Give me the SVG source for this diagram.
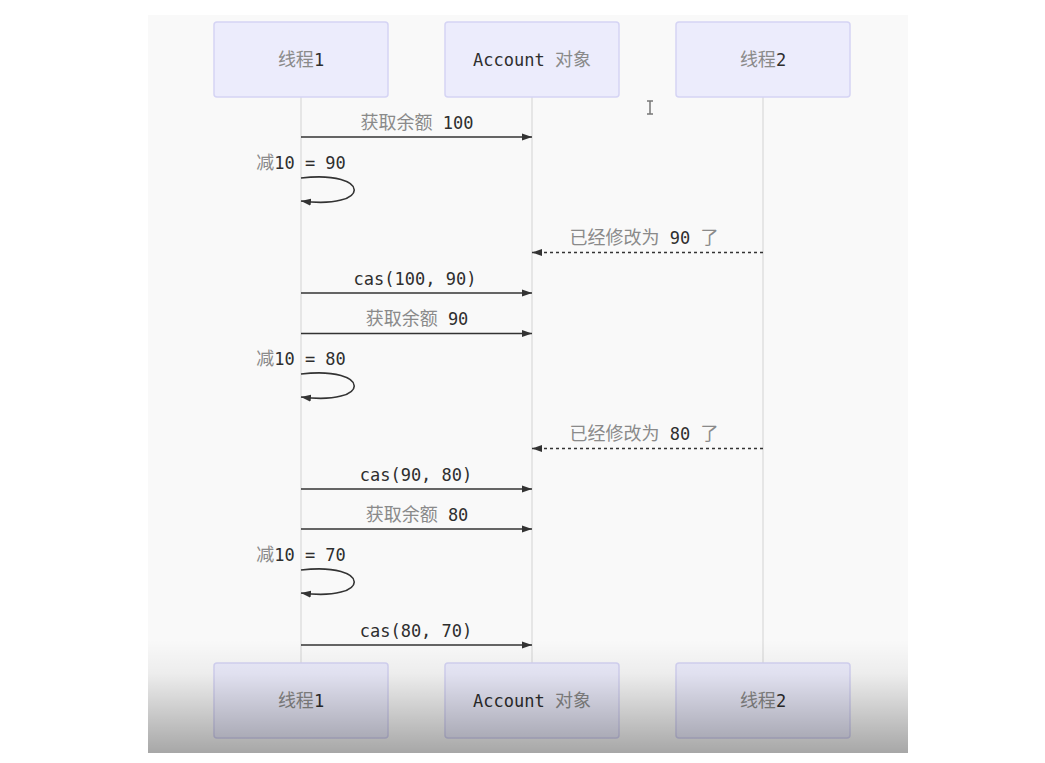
<svg xmlns="http://www.w3.org/2000/svg" width="1045" height="763" viewBox="0 0 1045 763">
<defs>
<style>
.box{fill:#ececfc;stroke:#d5d4f4;stroke-width:1.5}
.life{stroke:#d9d9d9;stroke-width:1.2;fill:none}
.t{font-family:"DejaVu Sans Mono","Noto Sans CJK SC",monospace;font-size:17px;text-anchor:middle}
.lat{fill:#2e2e2e}
.cjk{fill:#8a8a8a;font-family:"Noto Sans CJK SC","DejaVu Sans Mono",sans-serif;font-size:18px}
.msg{stroke:#333;stroke-width:1.6;fill:none}
.dash{stroke:#333;stroke-width:1.6;fill:none;stroke-dasharray:3 3}
</style>
<marker id="ah" markerWidth="10" markerHeight="8" refX="10" refY="4" orient="auto" markerUnits="userSpaceOnUse">
<path d="M0,0.5 L10,4 L0,7.5 Z" fill="#333"/>
</marker>
<linearGradient id="shade" x1="0" y1="0" x2="0" y2="1">
<stop offset="0" stop-color="#000" stop-opacity="0"/>
<stop offset="0.3" stop-color="#000" stop-opacity="0.05"/>
<stop offset="1" stop-color="#000" stop-opacity="0.33"/>
</linearGradient>
</defs>
<rect x="0" y="0" width="1045" height="763" fill="#ffffff"/>
<rect x="148" y="15" width="760" height="738" fill="#f9f9f9"/>

<g id="lifelines">
<line class="life" x1="301" y1="97" x2="301" y2="663"/>
<line class="life" x1="532" y1="97" x2="532" y2="663"/>
<line class="life" x1="763" y1="97" x2="763" y2="663"/>
</g>

<g id="thread1-top">
<rect class="box" x="214" y="22" width="174" height="75" rx="3"/>
<text class="t" x="301" y="66"><tspan class="cjk">线程</tspan><tspan class="lat">1</tspan></text>
</g>
<g id="account-top">
<rect class="box" x="445" y="22" width="174" height="75" rx="3"/>
<text class="t" x="532" y="66"><tspan class="lat">Account </tspan><tspan class="cjk">对象</tspan></text>
</g>
<g id="thread2-top">
<rect class="box" x="676" y="22" width="174" height="75" rx="3"/>
<text class="t" x="763" y="66"><tspan class="cjk">线程</tspan><tspan class="lat">2</tspan></text>
</g>

<g id="connectors">
<line class="msg" x1="301" y1="137" x2="532" y2="137" marker-end="url(#ah)"/>
<path class="msg" d="M301,178 C372,170 372,210 301,201" marker-end="url(#ah)"/>
<line class="dash" x1="763" y1="252.5" x2="532" y2="252.5" marker-end="url(#ah)"/>
<line class="msg" x1="301" y1="293" x2="532" y2="293" marker-end="url(#ah)"/>
<line class="msg" x1="301" y1="333.5" x2="532" y2="333.5" marker-end="url(#ah)"/>
<path class="msg" d="M301,374 C372,366 372,406 301,397" marker-end="url(#ah)"/>
<line class="dash" x1="763" y1="448.5" x2="532" y2="448.5" marker-end="url(#ah)"/>
<line class="msg" x1="301" y1="489" x2="532" y2="489" marker-end="url(#ah)"/>
<line class="msg" x1="301" y1="529" x2="532" y2="529" marker-end="url(#ah)"/>
<path class="msg" d="M301,570 C372,562 372,602 301,593" marker-end="url(#ah)"/>
<line class="msg" x1="301" y1="645" x2="532" y2="645" marker-end="url(#ah)"/>
</g>

<g id="labels">
<text class="t" x="417" y="129"><tspan class="cjk">获取余额</tspan><tspan class="lat"> 100</tspan></text>
<text class="t" x="301" y="169"><tspan class="cjk">减</tspan><tspan class="lat">10 = 90</tspan></text>
<text class="t" x="644" y="244"><tspan class="cjk">已经修改为</tspan><tspan class="lat"> 90 </tspan><tspan class="cjk">了</tspan></text>
<text class="t" x="415" y="285"><tspan class="lat">cas(100, 90)</tspan></text>
<text class="t" x="417" y="325"><tspan class="cjk">获取余额</tspan><tspan class="lat"> 90</tspan></text>
<text class="t" x="301" y="365"><tspan class="cjk">减</tspan><tspan class="lat">10 = 80</tspan></text>
<text class="t" x="644" y="440"><tspan class="cjk">已经修改为</tspan><tspan class="lat"> 80 </tspan><tspan class="cjk">了</tspan></text>
<text class="t" x="416" y="481"><tspan class="lat">cas(90, 80)</tspan></text>
<text class="t" x="417" y="521"><tspan class="cjk">获取余额</tspan><tspan class="lat"> 80</tspan></text>
<text class="t" x="301" y="561"><tspan class="cjk">减</tspan><tspan class="lat">10 = 70</tspan></text>
<text class="t" x="416" y="637"><tspan class="lat">cas(80, 70)</tspan></text>
</g>

<g id="thread1-bottom">
<rect class="box" x="214" y="663" width="174" height="75" rx="3"/>
<text class="t" x="301" y="707"><tspan class="cjk">线程</tspan><tspan class="lat">1</tspan></text>
</g>
<g id="account-bottom">
<rect class="box" x="445" y="663" width="174" height="75" rx="3"/>
<text class="t" x="532" y="707"><tspan class="lat">Account </tspan><tspan class="cjk">对象</tspan></text>
</g>
<g id="thread2-bottom">
<rect class="box" x="676" y="663" width="174" height="75" rx="3"/>
<text class="t" x="763" y="707"><tspan class="cjk">线程</tspan><tspan class="lat">2</tspan></text>
</g>

<path d="M647,101 H653 M650,101 V114 M647,114 H653" stroke="#777" stroke-width="1.5" fill="none"/>
<rect x="148" y="640" width="760" height="113" fill="url(#shade)"/>
</svg>
